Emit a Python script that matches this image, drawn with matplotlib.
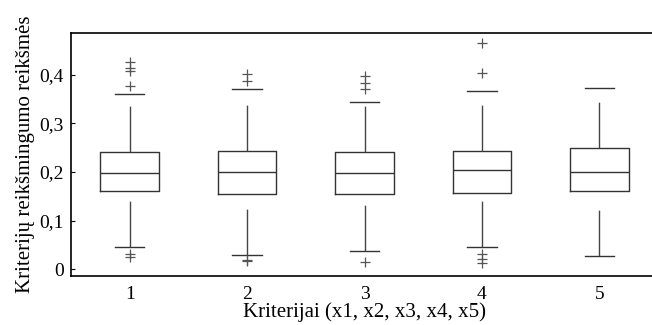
import matplotlib.pyplot as plt

plt.rcParams['font.family'] = 'Liberation Serif'
plt.rcParams['lines.scale_dashes'] = False

# box statistics
labels = ['1', '2', '3', '4', '5']
medians = [0.1975, 0.200, 0.1975, 0.2037, 0.200]
q1 = [0.161, 0.154, 0.154, 0.1576, 0.161]
q3 = [0.2407, 0.2434, 0.2407, 0.2434, 0.250]
whis_lo = [0.0465, 0.0294, 0.0383, 0.0465, 0.028]
whis_hi = [0.360, 0.3716, 0.345, 0.367, 0.372]
outliers = [
    [0.426, 0.414, 0.407, 0.376, 0.0315, 0.025],
    [0.401, 0.388, 0.019, 0.016],
    [0.397, 0.384, 0.370, 0.0157],
    [0.465, 0.403, 0.031, 0.022, 0.012],
    [],
]

stats = []
for i in range(len(labels)):
    stats.append(dict(med=medians[i], q1=q1[i], q3=q3[i], whislo=whis_lo[i],
                      whishi=whis_hi[i], fliers=outliers[i], label=labels[i]))

fig = plt.figure(figsize=(6.52, 3.25), dpi=100)
ax = fig.add_axes([71 / 652, 1 - 276 / 325, (658 - 71) / 652, (276 - 33) / 325])

line_col = '#333333'
res = ax.bxp(stats, widths=0.5, showfliers=True,
             boxprops=dict(color=line_col, linewidth=1.0),
             medianprops=dict(color=line_col, linewidth=1.0),
             whiskerprops=dict(color='#444444', linewidth=1.0, linestyle=(0, (33, 100))),
             capprops=dict(color=line_col, linewidth=1.0),
             flierprops=dict(marker='+', markeredgecolor='#555555', markersize=7,
                             markeredgewidth=0.9, linestyle='none'))

# dashes start at the whisker end for the lower whiskers
for k, w in enumerate(res['whiskers']):
    if k % 2 == 0:
        w.set_ydata(w.get_ydata()[::-1])

ax.set_xlim(0.5, 5.5)
ax.set_ylim(-0.014, 0.486)
ax.set_yticks([0, 0.1, 0.2, 0.3, 0.4])
ax.set_yticklabels(['0', '0,1', '0,2', '0,3', '0,4'])
ax.tick_params(axis='y', direction='in', length=3, labelsize=14, pad=5)
ax.tick_params(axis='x', length=0, labelsize=14, pad=7)
for s in ax.spines.values():
    s.set_linewidth(1.2)

ax.set_xlabel('Kriterijai (x1, x2, x3, x4, x5)', fontsize=15, labelpad=0)
ax.set_ylabel('Kriterijų reikšmingumo reikšmės', fontsize=15, labelpad=3)

fig.savefig('out.png', dpi=100)
